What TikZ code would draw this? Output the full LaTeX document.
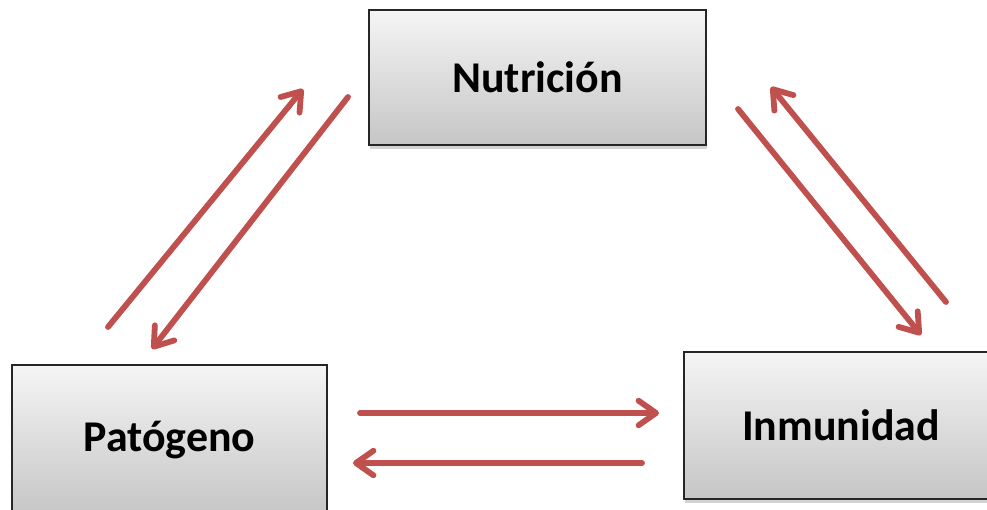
\documentclass[tikz,border=0pt]{standalone}
\usepackage{fontspec}
\setmainfont{Carlito}
\usetikzlibrary{arrows.meta,shadows}
\definecolor{arrowred}{HTML}{C0504D}

\begin{document}
\begin{tikzpicture}[x=0.02cm, y=-0.02cm,
  topic/.style={draw=black!85, line width=0.8pt, top color=gray!8, bottom color=gray!45,
    font=\fontsize{25}{30}\selectfont\bfseries, inner sep=0pt,
    drop shadow={opacity=0.35, shadow xshift=0.6pt, shadow yshift=-2.2pt}},
  link/.style={-{Straight Barb[length=10pt, width=14pt, line cap=round, line join=round]},
    color=arrowred, line width=3.3pt, line cap=round}]
\useasboundingbox (0,0) rectangle (987,510);
% ---- the three boxes
\node[topic, minimum width=6.74cm, minimum height=2.7cm] (nut) at (537.5,77.5) {Nutrición};
\node[topic, minimum width=6.3cm, minimum height=3.0cm] (pat) at (169.5,440) {Patógeno};
\node[topic, minimum width=6.28cm, minimum height=2.94cm] (inm) at (841,425.5) {Inmunidad};
% ---- arrow ends
\coordinate (pn0) at (108,327);  \coordinate (pn1) at (303,89);
\coordinate (np0) at (348,97);   \coordinate (np1) at (152,349);
\coordinate (ni0) at (738,109);  \coordinate (ni1) at (921,335);
\coordinate (in0) at (946,302);  \coordinate (in1) at (771,87);
\coordinate (pi0) at (360,413);  \coordinate (pi1) at (659,413);
\coordinate (ip0) at (642,463);  \coordinate (ip1) at (353,463);
% ---- arrows
\draw[link] (pn0) -- (pn1);
\draw[link] (np0) -- (np1);
\draw[link] (ni0) -- (ni1);
\draw[link] (in0) -- (in1);
\draw[link] (pi0) -- (pi1);
\draw[link] (ip0) -- (ip1);
\end{tikzpicture}
\end{document}
